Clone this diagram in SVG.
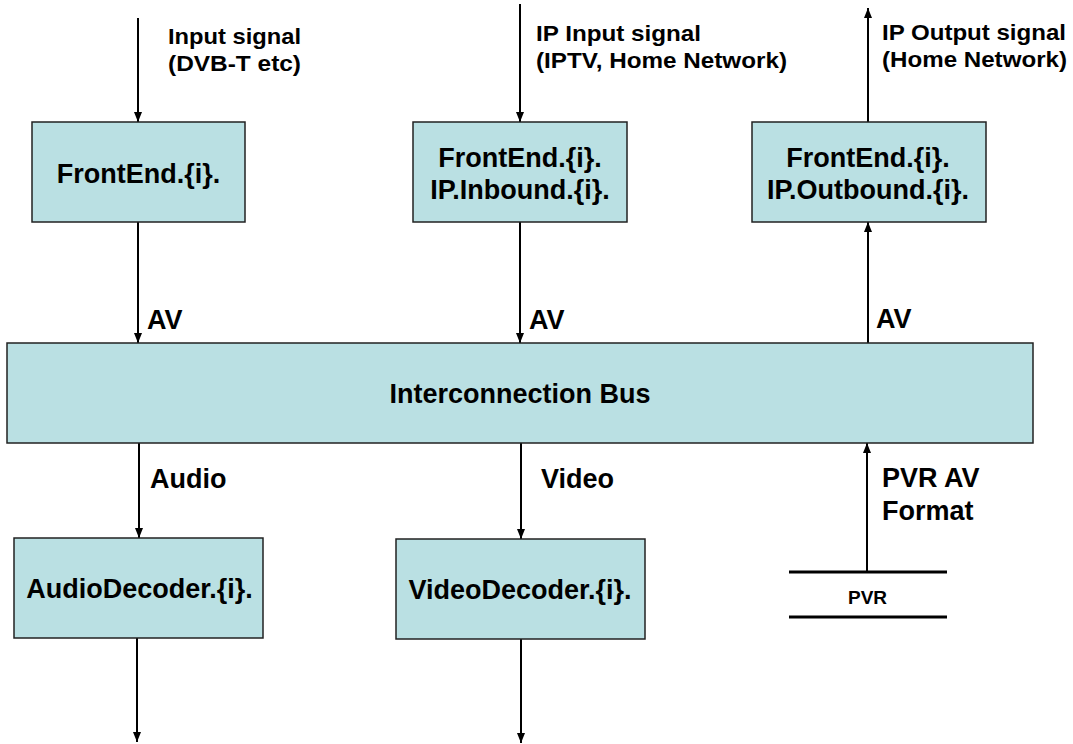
<svg xmlns="http://www.w3.org/2000/svg" width="1073" height="744" viewBox="0 0 1073 744">
<style>
.box{fill:#bae0e3;stroke:#222;stroke-width:1.5}
.t{font-family:"Liberation Sans",Arial,Helvetica,sans-serif;font-weight:bold;fill:#000}
.bt{font-size:27px;text-anchor:middle}
.lb{font-size:27px}
.sl{font-size:22.5px}
.c{stroke:#000;stroke-width:2;fill:none}
.pv{stroke:#000;stroke-width:3}
</style>
<defs>
<marker id="ah" markerUnits="userSpaceOnUse" markerWidth="10" markerHeight="10" refX="10" refY="5" orient="auto">
<path d="M0,1 L10,5 L0,9 z" fill="#000"/>
</marker>
</defs>
<rect width="1073" height="744" fill="#fff"/>
<g id="connectors">
<line class="c" x1="138" y1="18" x2="138" y2="122" marker-end="url(#ah)"/>
<line class="c" x1="520" y1="4" x2="520" y2="122" marker-end="url(#ah)"/>
<line class="c" x1="868" y1="122" x2="868" y2="8" marker-end="url(#ah)"/>
<line class="c" x1="138" y1="222" x2="138" y2="343" marker-end="url(#ah)"/>
<line class="c" x1="520" y1="222" x2="520" y2="343" marker-end="url(#ah)"/>
<line class="c" x1="868" y1="343" x2="868" y2="222" marker-end="url(#ah)"/>
<line class="c" x1="139" y1="443" x2="139" y2="538" marker-end="url(#ah)"/>
<line class="c" x1="521" y1="443" x2="521" y2="539" marker-end="url(#ah)"/>
<line class="c" x1="867" y1="573" x2="867" y2="443" marker-end="url(#ah)"/>
<line class="c" x1="137" y1="638" x2="137" y2="742" marker-end="url(#ah)"/>
<line class="c" x1="521" y1="639" x2="521" y2="743" marker-end="url(#ah)"/>
<text class="t sl" x="168" y="44" textLength="133" lengthAdjust="spacingAndGlyphs">Input signal</text>
<text class="t sl" x="168" y="71" textLength="133" lengthAdjust="spacingAndGlyphs">(DVB-T etc)</text>
<text class="t sl" x="536" y="41" textLength="165" lengthAdjust="spacingAndGlyphs">IP Input signal</text>
<text class="t sl" x="536" y="68" textLength="251" lengthAdjust="spacingAndGlyphs">(IPTV, Home Network)</text>
<text class="t sl" x="882" y="40" textLength="184" lengthAdjust="spacingAndGlyphs">IP Output signal</text>
<text class="t sl" x="882" y="67" textLength="185" lengthAdjust="spacingAndGlyphs">(Home Network)</text>
<text class="t lb" x="147" y="329">AV</text>
<text class="t lb" x="529" y="329">AV</text>
<text class="t lb" x="876" y="328">AV</text>
<text class="t lb" x="150" y="488">Audio</text>
<text class="t lb" x="541" y="488">Video</text>
<text class="t lb" x="882" y="487">PVR AV</text>
<text class="t lb" x="882" y="520">Format</text>
</g>
<g id="frontend">
<rect class="box" x="32" y="122" width="213" height="100"/>
<text class="t bt" x="138.5" y="183">FrontEnd.{i}.</text>
</g>
<g id="ipinbound">
<rect class="box" x="413" y="122" width="214" height="100"/>
<text class="t bt" x="520" y="167">FrontEnd.{i}.</text>
<text class="t bt" x="520" y="199">IP.Inbound.{i}.</text>
</g>
<g id="ipoutbound">
<rect class="box" x="752" y="122" width="234" height="100"/>
<text class="t bt" x="868" y="167">FrontEnd.{i}.</text>
<text class="t bt" x="868" y="199">IP.Outbound.{i}.</text>
</g>
<g id="bus">
<rect class="box" x="7" y="343" width="1026" height="100"/>
<text class="t bt" x="520" y="403">Interconnection Bus</text>
</g>
<g id="audiodecoder">
<rect class="box" x="14" y="538" width="249" height="100"/>
<text class="t bt" x="139.5" y="598">AudioDecoder.{i}.</text>
</g>
<g id="videodecoder">
<rect class="box" x="396" y="539" width="249" height="100"/>
<text class="t bt" x="520" y="599">VideoDecoder.{i}.</text>
</g>
<g id="pvr">
<line class="pv" x1="789" y1="572" x2="947" y2="572"/>
<line class="pv" x1="789" y1="617" x2="947" y2="617"/>
<text class="t" x="867.5" y="604" font-size="19" text-anchor="middle">PVR</text>
</g>
</svg>
